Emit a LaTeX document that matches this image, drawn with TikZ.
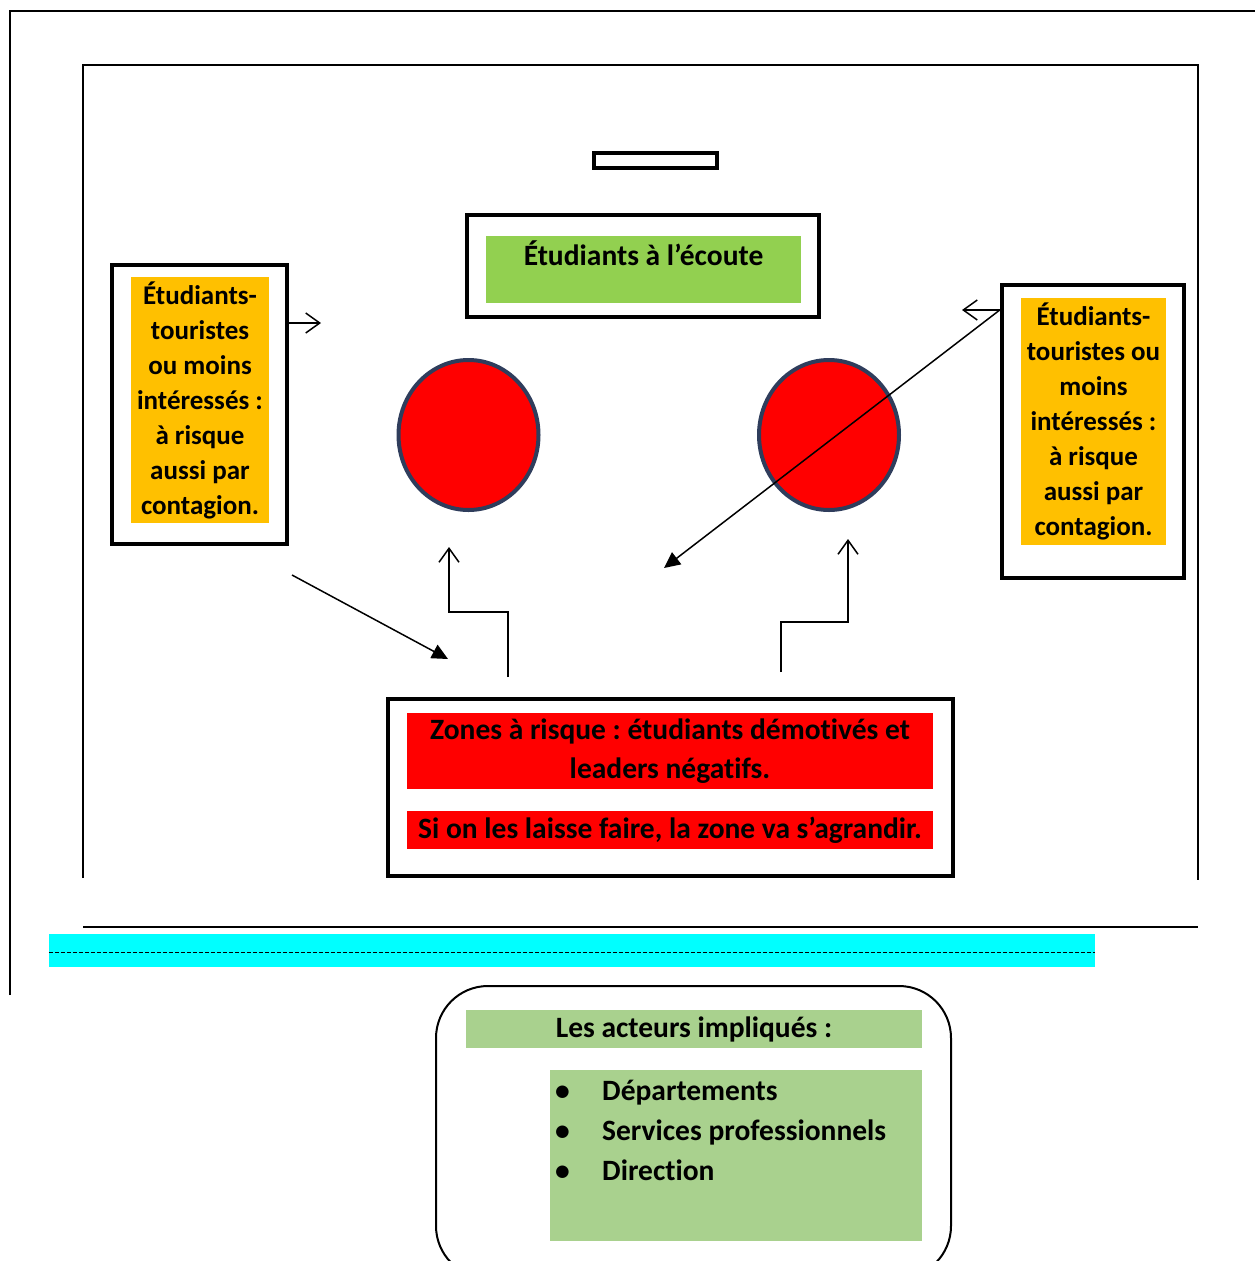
\documentclass[tikz,border=0pt]{standalone}
\usepackage{fontspec}
\setmainfont{Carlito}[Ligatures=NoCommon]
\usetikzlibrary{arrows.meta,shapes.geometric}
\definecolor{orangebox}{HTML}{FFC000}
\definecolor{greenbox}{HTML}{92D050}
\definecolor{lightgreen}{HTML}{A9D18E}
\definecolor{redbox}{HTML}{FF0000}
\definecolor{cyanbar}{HTML}{00FFFF}
\definecolor{navyline}{HTML}{2F3D5C}
\frenchspacing
\begin{document}
\begin{tikzpicture}[x=1pt,y=-1pt,
  frameline/.style={line width=1.6pt,black},
  thickbox/.style={draw=black,line width=4.5pt,inner sep=0pt},
  fillbox/.style={inner sep=0pt,draw=none},
  bigtext/.style={font=\fontsize{27}{35}\selectfont\bfseries\frenchspacing,align=center},
  widetext/.style={font=\fontsize{29.5}{39}\selectfont\bfseries\frenchspacing,align=center},
  conn/.style={line width=1.5pt,black},
  openhead/.style={-{Straight Barb[length=14pt,width=20pt,line width=1.5pt]}},
  filledhead/.style={-{Triangle[length=16pt,width=15pt]}},
  redcircle/.style={ellipse,draw=navyline,fill=redbox,line width=4pt,minimum width=140pt,minimum height=150pt,inner sep=0pt}
]
\useasboundingbox (0,0) rectangle (1255,1261);
\clip (0,0) rectangle (1255,1261);

% outer frame lines
\draw[frameline] (10,995) -- (10,11) -- (1255,11);
% inner frame lines
\draw[frameline] (83,878) -- (83,65) -- (1198,65) -- (1198,880);
\draw[frameline] (83,927) -- (1198,927);

% cyan bar
\node[fillbox,fill=cyanbar,minimum width=1046pt,minimum height=33pt] (cyan) at (572,950.5) {};
\draw[line width=1pt,dash pattern=on 4pt off 2pt] (cyan.west |- 0,952) -- (cyan.east |- 0,952);

% small rectangle at top
\node[draw=black,line width=4pt,minimum width=123pt,minimum height=15pt,inner sep=0pt] (small) at (655.5,160.5) {};

% top box
\node[thickbox,minimum width=352pt,minimum height=102pt] (topbox) at (643,266) {};
\node[fillbox,fill=greenbox,minimum width=315pt,minimum height=67pt] (topfill) at (643.5,269.5) {};
\node[widetext] (toptext) at (643.5,253) {Étudiants à l’écoute};

% left box
\node[thickbox,minimum width=175pt,minimum height=279pt] (lbox) at (199.5,404.5) {};
\node[fillbox,fill=orangebox,minimum width=138pt,minimum height=246pt,bigtext] (lfill) at (200,400)
  {Étudiants-\\touristes\\ou moins\\intéressés :\\à risque\\aussi par\\contagion.};

% right box
\node[thickbox,minimum width=182pt,minimum height=293pt] (rbox) at (1093,431.5) {};
\node[fillbox,fill=orangebox,minimum width=145pt,minimum height=247pt,bigtext] (rfill) at (1093.5,421.5)
  {Étudiants-\\touristes ou\\moins\\intéressés :\\à risque\\aussi par\\contagion.};

% circles
\node[redcircle] (lcirc) at (468.5,435) {};
\node[redcircle] (rcirc) at (829,435) {};

% bottom box
\node[thickbox,minimum width=565pt,minimum height=177pt] (bbox) at (670.5,787.5) {};
\node[fillbox,fill=redbox,minimum width=526pt,minimum height=76pt,widetext] (bfill1) at (670,751)
  {Zones à risque : étudiants démotivés et\\leaders négatifs.};
\node[fillbox,fill=redbox,minimum width=526pt,minimum height=38pt,widetext] (bfill2) at (670,830)
  {Si on les laisse faire, la zone va s’agrandir.};

% connectors
\coordinate (la) at (321,323);
\draw[conn,openhead] (lbox.east |- la) -- (la);
\coordinate (ra) at (962,310);
\draw[conn,openhead] (rbox.west |- ra) -- (ra);
\coordinate (rd) at (664,568);
\draw[conn,filledhead] (rbox.west |- ra) -- (rd);
\coordinate (ls) at (292,575);
\coordinate (le) at (448,659);
\draw[conn,filledhead] (ls) -- (le);
\coordinate (e1s) at (508,677);
\coordinate (e1e) at (449,547);
\draw[conn,openhead] (e1s) -- (508,612) -- (449,612) -- (e1e);
\coordinate (e2s) at (781,672);
\coordinate (e2e) at (848,539);
\draw[conn,openhead] (e2s) -- (781,622) -- (848,622) -- (e2e);

% bottom rounded box
\draw[line width=2pt,rounded corners=52pt] (436,986) rectangle (951,1278);
\node[fillbox,fill=lightgreen,minimum width=456pt,minimum height=38pt,widetext] (head) at (694,1029) {Les acteurs impliqués :};
\node[fillbox,fill=lightgreen,minimum width=372pt,minimum height=171pt] (list) at (736,1155.5) {};
\node[anchor=north west,inner sep=0pt,align=left,font=\fontsize{29.5}{40}\selectfont\bfseries] (listtext) at (555,1080)
  {\makebox[47pt][l]{•}Départements\\\makebox[47pt][l]{•}Services professionnels\\\makebox[47pt][l]{•}Direction};
\end{tikzpicture}
\end{document}
